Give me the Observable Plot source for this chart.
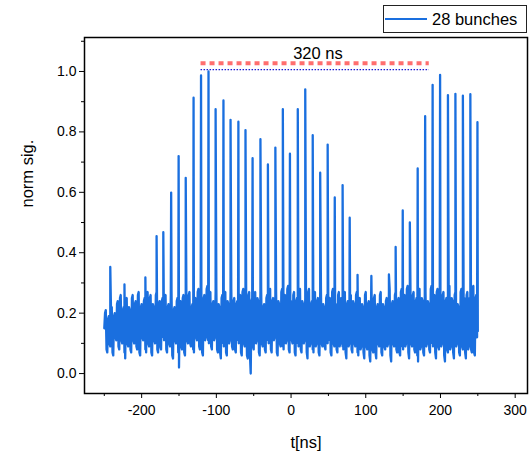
<!DOCTYPE html>
<html>
<head>
<meta charset="utf-8">
<script src="https://cdn.jsdelivr.net/npm/d3@7"></script>
<script src="https://cdn.jsdelivr.net/npm/@observablehq/plot@0.6"></script>
<style>
  html, body { margin: 0; padding: 0; background: #fff; }
  #chart { position: relative; width: 531px; height: 453px; }
  #legend {
    position: absolute; left: 383px; top: 5px; width: 142px; height: 26px;
    border: 1px solid #222; background: #fff; box-sizing: content-box;
    font-family: "Liberation Sans", Arial, sans-serif; font-size: 16.5px; color: #000;
    display: flex; align-items: center;
  }
  #legend .swatch { width: 42px; height: 2.5px; background: #1a6fdf; margin: 0 5px 0 1px; }
</style>
</head>
<body>
<div id="chart">
  <div id="legend"><span class="swatch"></span><span>28 bunches</span></div>
</div>
<script>
// Baseline trace (normalized signal), even samples: t = -250, -248, ..., 250 ns
const noiseEvenStart = -250;
const noiseEven = [
  .15,.21,.07,.19,.09,.22,.06,.20,.11,.24,
  .08,.26,.10,.22,.05,.25,.09,.21,.07,.26,
  .10,.24,.08,.27,.06,.23,.11,.25,.07,.27,
  .09,.26,.06,.22,.10,.27,.07,.24,.08,.25,
  .11,.26,.07,.23,.09,.27,.05,.22,.10,.25,
  .02,.24,.08,.26,.06,.21,.10,.27,.09,.23,
  .07,.25,.11,.28,.08,.22,.06,.26,.12,.29,
  .10,.27,.08,.24,.12,.28,.07,.22,.05,.26,
  .09,.27,.06,.23,.11,.28,.08,.25,.07,.24,
  .10,.26,.06,.28,.09,.22,.05,.27,.00,.25,
  .08,.27,.11,.24,.06,.28,.09,.23,.07,.26,
  .10,.28,.07,.25,.12,.27,.06,.23,.09,.28,
  .08,.26,.11,.29,.07,.24,.10,.27,.06,.25,
  .09,.28,.07,.23,.11,.26,.05,.28,.10,.24,
  .07,.27,.10,.25,.06,.28,.09,.22,.08,.26,
  .11,.25,.06,.28,.09,.23,.07,.27,.10,.24,
  .08,.27,.05,.24,.10,.26,.07,.23,.09,.27,
  .06,.25,.09,.22,.05,.27,.08,.24,.04,.23,
  .07,.26,.05,.23,.09,.27,.06,.22,.08,.25,
  .10,.28,.04,.24,.09,.27,.07,.25,.06,.28,
  .08,.26,.10,.29,.05,.24,.09,.27,.07,.25,
  .04,.28,.09,.24,.06,.27,.10,.23,.07,.29,
  .09,.26,.05,.28,.08,.23,.10,.27,.04,.25,
  .07,.29,.09,.24,.05,.27,.10,.22,.06,.28,
  .08,.25,.05,.27,.09,.24,.07,.29,.06,.26,
  .14
];
// Odd samples: t = -249, -247, ..., 249 ns
const noiseOddStart = -249;
const noiseOdd = [
  .20,.08,.18,.10,.21,.07,.19,.12,.23,.09,
  .25,.11,.21,.07,.24,.10,.22,.08,.25,.11,
  .23,.09,.26,.07,.22,.12,.24,.08,.26,.10,
  .25,.07,.23,.11,.26,.08,.23,.09,.24,.12,
  .25,.08,.22,.10,.26,.06,.21,.11,.24,.07,
  .23,.09,.25,.07,.22,.11,.26,.10,.22,.08,
  .24,.12,.27,.09,.23,.07,.25,.11,.28,.11,
  .26,.09,.23,.11,.27,.08,.23,.07,.25,.10,
  .26,.07,.24,.10,.27,.09,.24,.08,.23,.11,
  .25,.07,.27,.10,.23,.06,.26,.06,.24,.09,
  .26,.10,.25,.07,.27,.10,.22,.08,.25,.11,
  .27,.08,.24,.11,.26,.07,.24,.10,.27,.09,
  .25,.10,.28,.08,.23,.11,.26,.07,.24,.10,
  .27,.08,.24,.10,.25,.07,.27,.09,.23,.08,
  .26,.09,.24,.07,.27,.10,.23,.09,.25,.10,
  .24,.07,.27,.10,.22,.08,.26,.09,.25,.09,
  .26,.07,.23,.09,.25,.08,.24,.10,.26,.07,
  .24,.08,.23,.07,.26,.09,.23,.06,.22,.08,
  .25,.07,.22,.10,.26,.07,.23,.09,.24,.09,
  .27,.06,.23,.10,.26,.08,.24,.07,.27,.09,
  .25,.09,.28,.07,.23,.10,.26,.08,.24,.06,
  .27,.08,.25,.07,.26,.09,.24,.08,.28,.10,
  .25,.07,.27,.09,.24,.09,.26,.06,.24,.08,
  .28,.08,.25,.07,.26,.09,.23,.07,.27,.09,
  .24,.07,.26,.08,.25,.08,.28,.07,.25,.12
];

// Bunch peaks: time (ns) and normalized amplitude
const peakTimes = [
  -242, -223, -195, -180, -171, -160.5, -150.5, -141, -130.5, -120.5,
  -110.5, -101, -90.5, -81, -70.5, -61, -51.5, -41, -31, -21,
  -11, -1.5, 9, 19, 29, 39, 49, 58.5, 69, 78.5,
  89, 107.5, 131, 140, 149.5, 159, 169.5, 179.5, 189.5, 199.5,
  210, 220, 230, 240, 249.5
];
const peakValues = [
  0.353, 0.295, 0.318, 0.455, 0.468, 0.599, 0.720, 0.648, 0.913, 0.987,
  1.000, 0.875, 0.904, 0.840, 0.834, 0.806, 0.713, 0.776, 0.692, 0.748,
  0.875, 0.728, 0.875, 0.941, 0.789, 0.665, 0.758, 0.583, 0.624, 0.516,
  0.327, 0.323, 0.328, 0.419, 0.540, 0.500, 0.679, 0.852, 0.956, 0.989,
  0.922, 0.926, 0.920, 0.925, 0.832
];

// Train-length marker
const spanStart = [-120.5];
const spanEnd = [185];
const spanDashedLevel = [1.027];
const spanDottedLevel = [1.006];
const spanLabel = ["320 ns"];
const spanLabelX = [36];
const spanLabelY = [1.04];

// Axis ticks and titles
const xMajorTicks = [-200, -100, 0, 100, 200, 300];
const xMinorTicks = [-250, -150, -50, 50, 150, 250];
const yMajorTicks = [0, 0.2, 0.4, 0.6, 0.8, 1.0];
const yMinorTicks = [0.1, 0.3, 0.5, 0.7, 0.9, 1.1];
const xTitle = ["t[ns]"];
const yTitle = ["norm sig."];

const trace = noiseEven.map((v, i) => ({t: noiseEvenStart + 2 * i, v}))
  .concat(noiseOdd.map((v, i) => ({t: noiseOddStart + 2 * i, v})))
  .concat(peakTimes.map((t, i) => ({t, v: peakValues[i]})))
  .sort((a, b) => a.t - b.t);

const span = spanStart.map((s, i) => ({
  x1: s, x2: spanEnd[i], dashed: spanDashedLevel[i], dotted: spanDottedLevel[i],
  label: spanLabel[i], lx: spanLabelX[i], ly: spanLabelY[i]
}));

const chart = Plot.plot({
  width: 531,
  height: 453,
  marginLeft: 84,
  marginRight: 4,
  marginTop: 37,
  marginBottom: 60,
  style: {fontFamily: "'Liberation Sans', Arial, sans-serif", fontSize: "14px", color: "#000", background: "#fff"},
  x: {domain: [-276.5, 316.5]},
  y: {domain: [-0.066, 1.1125]},
  marks: [
    Plot.line(trace, {x: "t", y: "v", stroke: "#1a6fdf", strokeWidth: 2.3}),
    Plot.ruleY(span, {x1: "x1", x2: "x2", y: "dashed", stroke: "#ff6e6e", strokeWidth: 4, strokeDasharray: "5,4"}),
    Plot.ruleY(span, {x1: "x1", x2: "x2", y: "dotted", stroke: "#1a1ad0", strokeWidth: 1.4, strokeDasharray: "1.5,1.5"}),
    Plot.text(span, {x: "lx", y: "ly", text: "label", fontSize: 16.5, textAnchor: "middle", lineAnchor: "bottom", fill: "#000"}),
    Plot.axisX({ticks: xMajorTicks, tickSize: 5, tickPadding: 7, tickFormat: d => String(d), label: null, fontSize: 14}),
    Plot.axisX({ticks: xMinorTicks, tickSize: 3, tickFormat: () => "", label: null}),
    Plot.axisY({ticks: yMajorTicks, tickSize: 5, tickPadding: 3, tickFormat: d3.format(".1f"), label: null, fontSize: 14}),
    Plot.axisY({ticks: yMinorTicks, tickSize: 3, tickFormat: () => "", label: null}),
    Plot.frame({stroke: "#000", strokeWidth: 1.5}),
    Plot.text(xTitle, {frameAnchor: "bottom", dy: 49, fontSize: 16.5, lineAnchor: "middle"}),
    Plot.text(yTitle, {frameAnchor: "left", dx: -57, dy: -8, rotate: -90, fontSize: 16.5, lineAnchor: "middle"})
  ]
});

document.getElementById("chart").prepend(chart);
</script>
</body>
</html>
